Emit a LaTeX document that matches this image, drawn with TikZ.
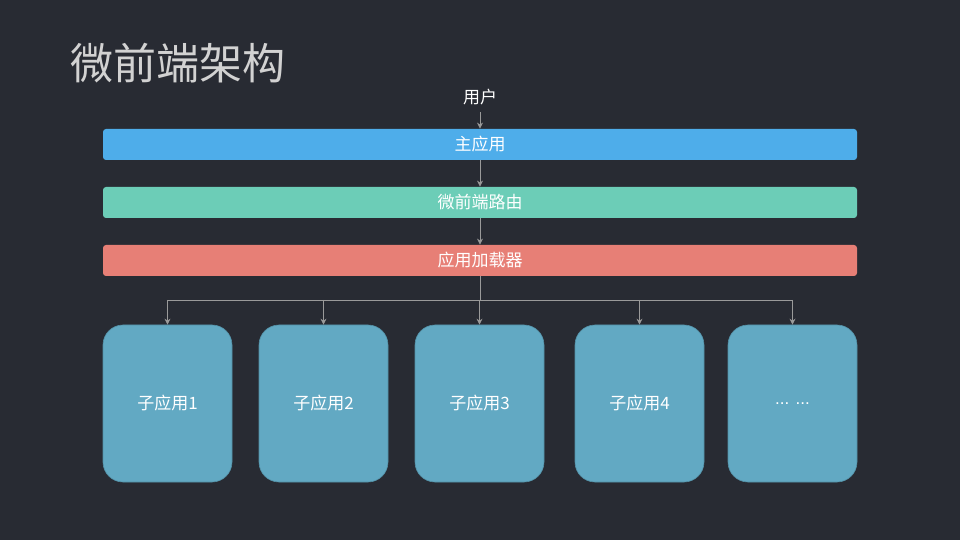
\documentclass[tikz,border=0pt]{standalone}
\usepackage{fontspec}
\setmainfont{Noto Sans CJK SC}
\newfontfamily\latinfont{Liberation Sans}
\usetikzlibrary{arrows.meta,positioning}
\definecolor{bgcol}{HTML}{282B33}
\definecolor{titlecol}{HTML}{D2D2D2}
\definecolor{linecol}{HTML}{9A9A9A}
\definecolor{maincol}{HTML}{4EADEA}
\definecolor{routecol}{HTML}{6CCDB7}
\definecolor{loadcol}{HTML}{E77F76}
\definecolor{appcol}{HTML}{62A9C3}
\newcommand{\moreapps}{{\latinfont ... ...}}

\begin{document}
\begin{tikzpicture}[x=0.5pt,y=-0.5pt,
	bar/.style={minimum width=377pt,minimum height=15.5pt,rounded corners=1.5pt,inner sep=0pt,text=white,font=\fontsize{8.5}{10}\selectfont},
	app/.style={minimum width=64.5pt,minimum height=78.5pt,rounded corners=10pt,inner sep=0pt,fill=appcol,draw=appcol!85!black,line width=0.3pt,text=white,font=\fontsize{8.5}{10}\selectfont},
	link/.style={draw=linecol,line width=0.4pt,-{Stealth[length=3pt,width=3pt]}}]
		\fill[bgcol] (0,0) rectangle (960,540);
		% title
		\node[anchor=west,text=titlecol,font=\fontsize{21.5}{26}\selectfont] (title) at (63,63) {微前端架构};
		% layers
		\node[text=white,font=\fontsize{8.5}{10}\selectfont] (user) at (480,97) {用户};
		\node[bar,fill=maincol] (main) at (480,144.5) {主应用};
		\node[bar,fill=routecol] (router) at (480,202.5) {微前端路由};
		\node[bar,fill=loadcol] (loader) at (480,260.5) {应用加载器};
		\draw[link] (user) -- (main);
		\draw[link] (main) -- (router);
		\draw[link] (router) -- (loader);
		% sub applications
		\foreach \i/\x/\t in {1/167.5/子应用1,2/323.5/子应用2,3/479.5/子应用3,4/639.5/子应用4,5/792.5/\moreapps}
		\node[app] (app\i) at (\x,403.5) {\t};
		\coordinate (fork) at (480,300);
		\draw[linecol,line width=0.4pt] (loader.south) -- (fork);
		\draw[linecol,line width=0.4pt] (fork -| app1.north) -- (fork -| app5.north);
		\foreach \i in {1,...,5}
		\draw[link] (fork -| app\i.north) -- (app\i.north);
\end{tikzpicture}
\end{document}
